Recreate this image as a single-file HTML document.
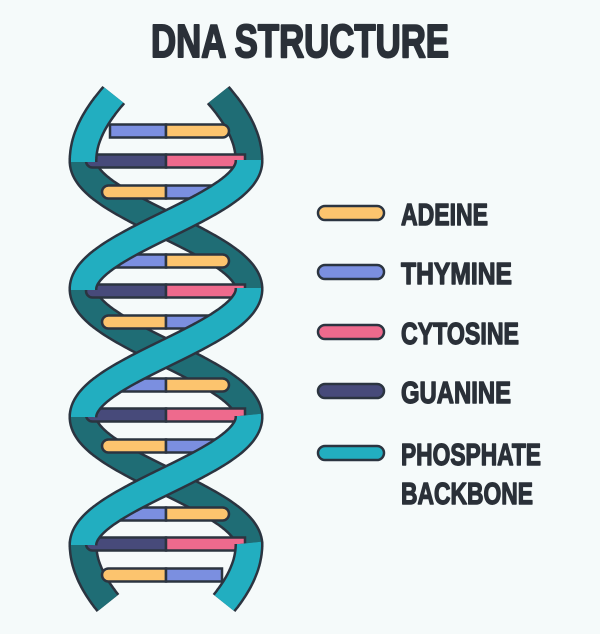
<!DOCTYPE html>
<html><head><meta charset="utf-8"><style>
html,body{margin:0;padding:0;background:#f5fafa;}
svg{display:block}
text{font-family:"Liberation Sans Narrow","Liberation Sans",sans-serif;font-weight:bold;fill:#2a3038;stroke:#2a3038;stroke-width:1.4;stroke-linejoin:round}
</style></head><body>
<svg id="s" width="600" height="634" viewBox="0 0 600 634" xmlns="http://www.w3.org/2000/svg">
<rect width="600" height="634" fill="#f5fafa"/>
<text x="151" y="57" font-size="46" textLength="298" lengthAdjust="spacingAndGlyphs" style="stroke-width:2">DNA STRUCTURE</text>
<g id="back"></g>
<g id="rungs"></g>
<g id="front"></g>
<g stroke="#2b3440" stroke-width="2.5">
<rect x="318" y="206" width="66" height="14" rx="7" fill="#fcc46e"/>
<rect x="318" y="265" width="66" height="14" rx="7" fill="#7b8fe0"/>
<rect x="318" y="325" width="66" height="14" rx="7" fill="#ee6a8d"/>
<rect x="318" y="384" width="66" height="14" rx="7" fill="#474a7a"/>
<rect x="318" y="446" width="66" height="14" rx="7" fill="#22aec0"/>
</g>
<text x="401" y="225" font-size="31" textLength="87" lengthAdjust="spacingAndGlyphs">ADEINE</text>
<text x="401" y="284" font-size="31" textLength="111" lengthAdjust="spacingAndGlyphs">THYMINE</text>
<text x="401" y="344" font-size="31" textLength="118" lengthAdjust="spacingAndGlyphs">CYTOSINE</text>
<text x="401" y="403" font-size="31" textLength="110" lengthAdjust="spacingAndGlyphs">GUANINE</text>
<text x="401" y="465" font-size="31" textLength="140" lengthAdjust="spacingAndGlyphs">PHOSPHATE</text>
<text x="401" y="504" font-size="31" textLength="132" lengthAdjust="spacingAndGlyphs">BACKBONE</text>
</svg>
<script>
var NS="http://www.w3.org/2000/svg";
function el(p,t,a){var e=document.createElementNS(NS,t);for(var k in a)e.setAttribute(k,a[k]);p.appendChild(e);return e;}
var C=166,A=83;
function phase(y){
  if(y<161) return Math.PI*(y-161)/128*0.55;
  if(y>544) return 3*Math.PI+Math.PI*(y-544)/128*0.55;
  return Math.PI*(y-161)/128;
}
var back=document.getElementById('back'),front=document.getElementById('front'),rungs=document.getElementById('rungs');
function seg(s,y0,y1,g,col){
  var d="";
  for(var y=y0;y<=y1+0.01;y+=1){var x=C+s*A*Math.cos(phase(y));d+=(d?"L":"M")+x.toFixed(1)+" "+y.toFixed(1);}
  el(g,'path',{d:d,fill:'none',stroke:'#2b3440','stroke-width':29,'stroke-linecap':'butt'});
  el(g,'path',{d:d,fill:'none',stroke:col,'stroke-width':24,'stroke-linecap':'butt'});
}
var bounds=[95,161,289,416,544,603];
[1,-1].forEach(function(s){
  for(var i=0;i<bounds.length-1;i++){
    var mid=(bounds[i]+bounds[i+1])/2;
    var sn=Math.sin(phase(mid))*s;
    var light=sn>0;
    seg(s,bounds[i]-(i>0?1:0),bounds[i+1]+(i<bounds.length-2?1:0),light?front:back,light?'#22aec0':'#1f6d75');
  }
});
function bar(x1,x2,y,col,rl,rr){
  var h=13,r=6.5,t=y-h/2,b=y+h/2,d;
  d="M"+(rl?x1+r:x1)+" "+t+"L"+(rr?x2-r:x2)+" "+t+(rr?"A"+r+" "+r+" 0 0 1 "+(x2-r)+" "+b:"L"+x2+" "+b)+"L"+(rl?x1+r:x1)+" "+b+(rl?"A"+r+" "+r+" 0 0 1 "+(x1+r)+" "+t:"L"+x1+" "+t)+"Z";
  el(rungs,'path',{d:d,fill:col,stroke:'#2b3440','stroke-width':2.5});
}
[161,291,415,544].forEach(function(c){
  bar(110,166,c-30,'#7b8fe0',false,false);bar(166,229,c-30,'#fcc46e',false,true);
  bar(86,166,c,'#474a7a',true,false);bar(166,245,c,'#ee6a8d',false,false);
  bar(102,166,c+31,'#fcc46e',true,false);bar(166,222,c+31,'#7b8fe0',false,false);
});
</script>
</body></html>
